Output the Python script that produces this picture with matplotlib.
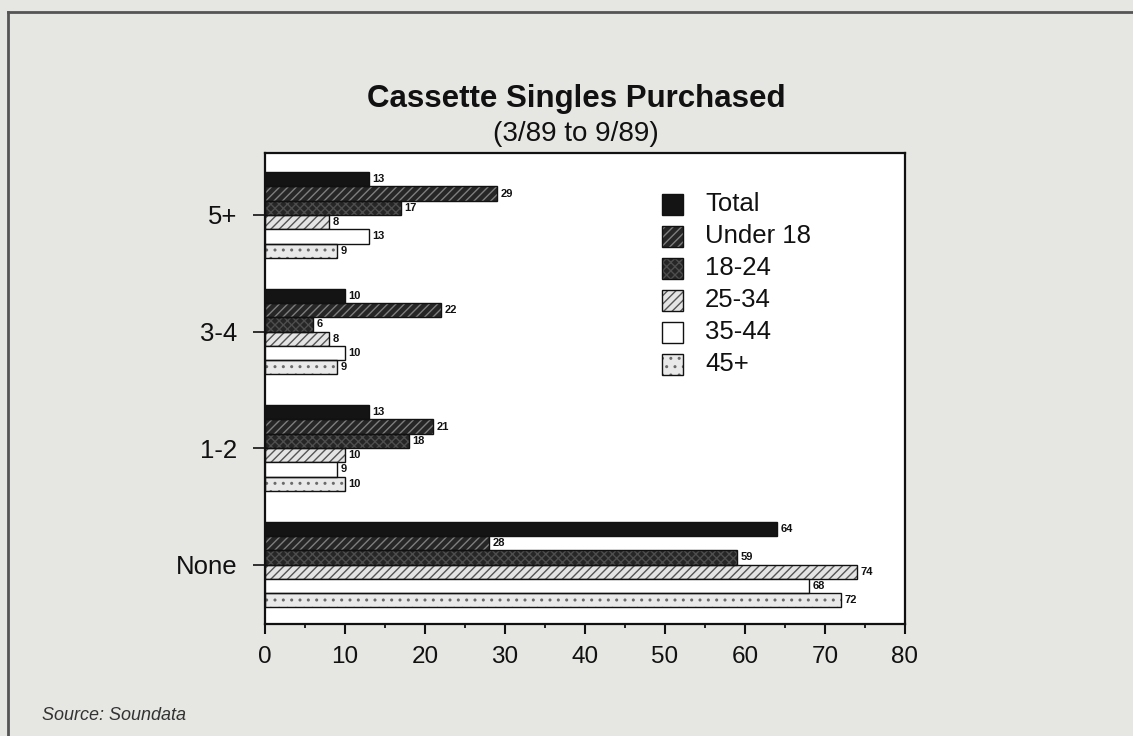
import matplotlib
matplotlib.use("Agg")
import matplotlib.pyplot as plt
from matplotlib.patches import Rectangle
from matplotlib.ticker import MultipleLocator
import numpy as np

plt.rcParams['font.family'] = ['Liberation Sans', 'DejaVu Sans']
plt.rcParams['hatch.linewidth'] = 1.0

categories = ["None", "1-2", "3-4", "5+"]
series_names = ["Total", "Under 18", "18-24", "25-34", "35-44", "45+"]
values = {
    "Total":    [64, 13, 10, 13],
    "Under 18": [28, 21, 22, 29],
    "18-24":    [59, 18, 6, 17],
    "25-34":    [74, 10, 8, 8],
    "35-44":    [68, 9, 10, 13],
    "45+":      [72, 10, 9, 9],
}
xticks = [0, 10, 20, 30, 40, 50, 60, 70, 80]

# style: facecolor, hatch, hatch colour
styles = {
    "Total":    ("#141414", None, None),
    "Under 18": ("#262626", "////", "#7e7e7e"),
    "18-24":    ("#262626", "xxxx", "#4e4e4e"),
    "25-34":    ("#e4e4e4", "////", "#555555"),
    "35-44":    ("#ffffff", None, None),
    "45+":      ("#e9e9e9", "..", "#6a6a6a"),
}

W, H = 1133, 736
AX_L, AX_R, AX_T, AX_B = 265, 905, 153, 624
fig = plt.figure(figsize=(W / 100, H / 100), dpi=100)
fig.patch.set_facecolor("#e6e6e3")

# page frame
fig.add_artist(plt.Line2D([8 / W, 8 / W], [0, 1 - 12 / H], transform=fig.transFigure,
                          color="#555555", lw=2))
fig.add_artist(plt.Line2D([8 / W, 1], [1 - 12 / H, 1 - 12 / H], transform=fig.transFigure,
                          color="#555555", lw=2))

ax = fig.add_axes([AX_L / W, 1 - AX_B / H, (AX_R - AX_L) / W, (AX_B - AX_T) / H])
ax.set_facecolor("white")

y = np.arange(len(categories))
h = 0.1225
for i, name in enumerate(series_names):
    fc, hatch, hc = styles[name]
    pos = y + (2.5 - i) * h
    vals = values[name]
    if hatch:
        ax.barh(pos, vals, height=h, color=fc, hatch=hatch, edgecolor=hc, linewidth=0, zorder=2)
        ax.barh(pos, vals, height=h, facecolor="none", edgecolor="#111111", linewidth=1.0, zorder=3)
    else:
        ax.barh(pos, vals, height=h, color=fc, edgecolor="#111111", linewidth=1.0, zorder=3)
    for p, v in zip(pos, vals):
        ax.text(v + 0.4, p, str(v), va="center", ha="left", fontsize=8,
                fontweight="bold", color="#111111", zorder=4)

ax.set_xlim(0, 80)
ax.set_ylim(-0.51, 3.532)
ax.set_xticks(xticks)
ax.set_xticklabels([str(t) for t in xticks])
ax.xaxis.set_minor_locator(MultipleLocator(5))
ax.set_yticks(y)
ax.set_yticklabels(categories)
ax.tick_params(axis="x", which="major", direction="out", length=7, width=1.5, pad=9,
               labelsize=17.5, colors="#111111")
ax.tick_params(axis="x", which="minor", direction="out", length=3, width=1.2)
ax.tick_params(axis="y", direction="out", length=9, width=1.2, pad=11, labelsize=18.5,
               colors="#111111")
for s in ax.spines.values():
    s.set_linewidth(1.6)
    s.set_color("#111111")

# legend (manual)
axw, axh = AX_R - AX_L, AX_B - AX_T
leg_x = (662 - AX_L) / axw
text_x = (705 - AX_L) / axw
sq_w = 21 / axw
sq_h = 21 / axh
for i, name in enumerate(series_names):
    fc, hatch, hc = styles[name]
    yy = (AX_B - (204 + 32 * i)) / axh
    if hatch:
        ax.add_patch(Rectangle((leg_x, yy - sq_h / 2), sq_w, sq_h, transform=ax.transAxes,
                               facecolor=fc, hatch=hatch, edgecolor=hc, linewidth=0, zorder=5))
        ax.add_patch(Rectangle((leg_x, yy - sq_h / 2), sq_w, sq_h, transform=ax.transAxes,
                               facecolor="none", edgecolor="#111111", linewidth=1.0, zorder=6))
    else:
        ax.add_patch(Rectangle((leg_x, yy - sq_h / 2), sq_w, sq_h, transform=ax.transAxes,
                               facecolor=fc, edgecolor="#111111", linewidth=1.0, zorder=6))
    ax.text(text_x, yy, name, transform=ax.transAxes, va="center", ha="left",
            fontsize=18.5, color="#111111")

fig.text(576 / W, 1 - 99 / H, "Cassette Singles Purchased", ha="center", va="center",
         fontsize=22.5, fontweight="bold", color="#111111")
fig.text(576 / W, 1 - 134 / H, "(3/89 to 9/89)", ha="center", va="center",
         fontsize=20, color="#111111")
fig.text(42 / W, 1 - 715 / H, "Source: Soundata", ha="left", va="center",
         fontsize=13, style="italic", color="#333333")

fig.savefig("out.png", dpi=100, facecolor=fig.get_facecolor())
